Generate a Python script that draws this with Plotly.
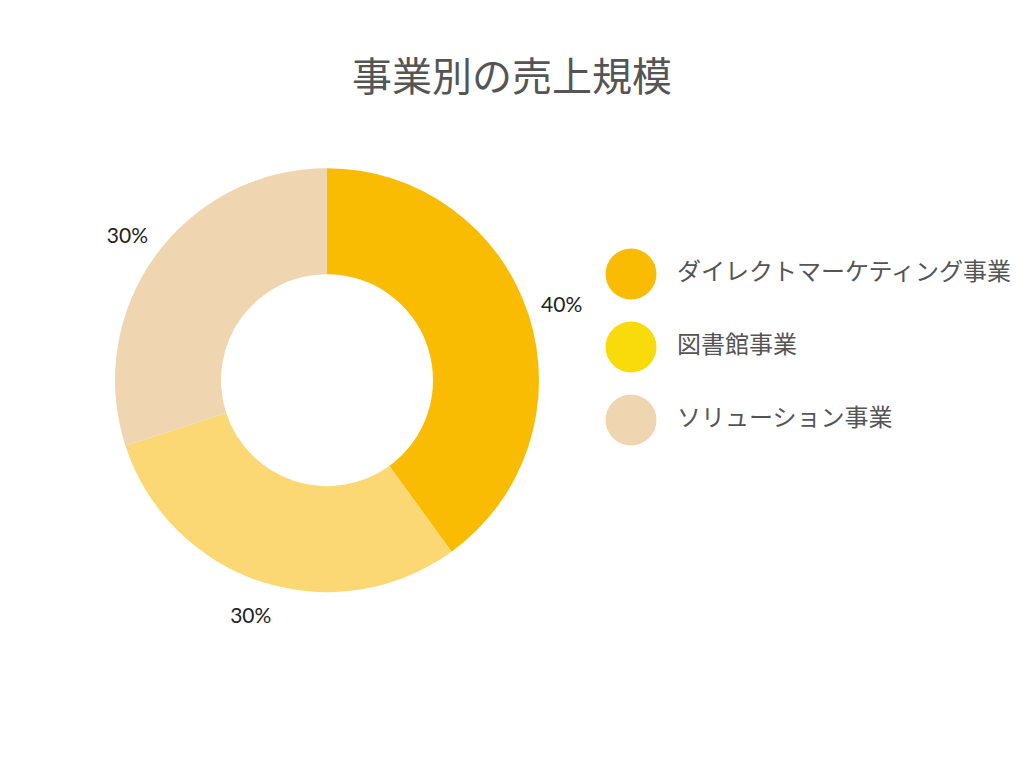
import plotly.graph_objects as go

title_text = "事業別の売上規模"
categories = ["ダイレクトマーケティング事業", "図書館事業", "ソリューション事業"]
values = [40, 30, 30]
slice_colors = ["#F9BC02", "#FBD873", "#EFD5B0"]
legend_colors = ["#F9BC02", "#F9DA0A", "#EFD5B0"]

CJK = "Noto Sans CJK JP"

fig = go.Figure()

# the doughnut itself
fig.add_trace(go.Pie(
    labels=categories,
    values=values,
    hole=0.5,
    sort=False,
    direction="clockwise",
    rotation=0,
    marker=dict(colors=slice_colors, line=dict(width=0)),
    textinfo="none",
    showlegend=False,
    domain=dict(x=[0.1123, 0.5264], y=[0.229, 0.781]),
    hoverinfo="label+percent",
))

# transparent outer ring that carries the percentage labels
fig.add_trace(go.Pie(
    labels=categories,
    values=values,
    hole=0.69,
    sort=False,
    direction="clockwise",
    rotation=0,
    marker=dict(colors=["rgba(0,0,0,0)"] * len(values), line=dict(width=0)),
    texttemplate="%{value}%",
    textposition="inside",
    insidetextorientation="horizontal",
    textfont=dict(family="Lato", size=21, color="#222222"),
    showlegend=False,
    domain=dict(x=[0.0342, 0.6045], y=[0.1250, 0.8854]),
    hoverinfo="skip",
))

# custom legend drawn with large circle markers on a hidden axis
LEGEND_MARKER_X = 631
LEGEND_TEXT_X = 677
fig.add_trace(go.Scatter(
    x=[LEGEND_MARKER_X] * len(categories),
    y=categories,
    mode="markers",
    marker=dict(size=51, color=legend_colors, line=dict(width=0)),
    showlegend=False,
    hoverinfo="skip",
))
fig.add_trace(go.Scatter(
    x=[LEGEND_TEXT_X] * len(categories),
    y=categories,
    mode="text",
    text=categories,
    textposition="middle right",
    textfont=dict(family=CJK, size=24, color="#555555"),
    showlegend=False,
    hoverinfo="skip",
))

fig.update_layout(
    width=1024,
    height=768,
    margin=dict(l=0, r=0, t=0, b=0),
    paper_bgcolor="white",
    plot_bgcolor="rgba(0,0,0,0)",
    title=dict(
        text=title_text,
        x=0.5,
        xanchor="center",
        y=1 - 77 / 768,
        yanchor="middle",
        font=dict(family=CJK, size=40, color="#555555"),
    ),
    xaxis=dict(domain=[0, 1], range=[0, 1024], visible=False, fixedrange=True),
    yaxis=dict(
        domain=[1 - 456.5 / 768, 1 - 237.5 / 768],
        type="category",
        categoryorder="array",
        categoryarray=categories,
        range=[2.5, -0.5],
        visible=False,
        fixedrange=True,
    ),
)

fig.write_html("out.html")
